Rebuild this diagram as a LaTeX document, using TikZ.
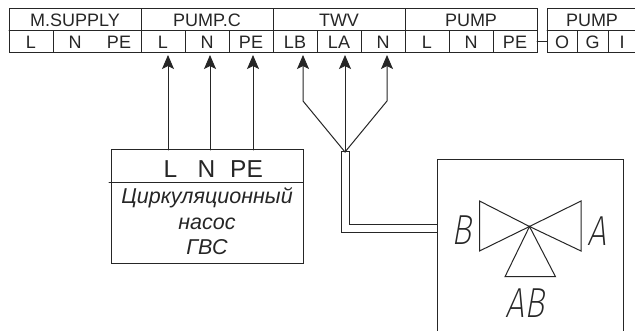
\documentclass[tikz,border=0pt]{standalone}
\usepackage{fontspec}
\setmainfont{Liberation Sans}
\newfontfamily\thinf{Fira Sans ExtraLight}[AutoFakeSlant=0.22]
\usetikzlibrary{arrows.meta}
\definecolor{ink}{HTML}{262626}
\tikzset{
  x=1pt,y=-1pt,
  ln/.style={draw=ink,line width=1pt,line cap=round,line join=miter},
  arr/.style={ln,-{Stealth[length=14pt,width=12pt,inset=3pt]}},
  tt/.style={text=ink,font=\fontsize{18}{18}\selectfont,inner sep=0pt,anchor=base},
  it/.style={text=ink,font=\fontsize{21.5}{22}\selectfont\itshape,inner sep=0pt,anchor=base},
  bl/.style={text=ink,font=\fontsize{24.5}{25}\selectfont,inner sep=0pt,anchor=base},
  lt/.style={text=ink,font=\fontsize{42}{42}\thinf\slshape,inner sep=0pt,anchor=base,xscale=0.8},
}
\begin{document}
\begin{tikzpicture}
\useasboundingbox[fill=white] (0,0) rectangle (635,331);
% terminal table
\draw[ln] (9,9) rectangle (537,52.5);
\draw[ln] (9,31) -- (537,31);
\foreach \x in {141,273,405}{\draw[ln] (\x,9) -- (\x,52.5);}
\foreach \x in {53,185,229,317,361,449,493}{\draw[ln] (\x,31) -- (\x,52.5);}
\draw[ln] (635,9) -- (547,9) -- (547,52.5) -- (635,52.5);
\draw[ln] (547,31) -- (635,31);
\draw[ln] (577,31) -- (577,52.5);
\draw[ln] (608,31) -- (608,52.5);
\draw[ln] (537,42) -- (547,42);
% header labels
\node[tt] (h1) at (75,26.5) {M.SUPPLY};
\node[tt] (h2) at (207,26.5) {PUMP.C};
\node[tt] (h3) at (339,26.5) {TWV};
\node[tt] (h4) at (471,26.5) {PUMP};
\node[tt] (h5) at (592,26.5) {PUMP};
% terminals
\foreach \n/\x/\t in {a/31/L,b/75/N,c/119/PE,d/163/L,e/207/N,f/251/PE,g/295/LB,h/339/LA,i/383/N,j/427/L,k/471/N,l/515/PE,m/562/O,n/592.5/G,o/622/I}{
  \node[tt] (t\n) at (\x,48.7) {\t};
}
% pump box
\draw[ln] (111,150) rectangle (303,264);
\draw[ln] (109,183) -- (303,183);
\node[bl] (pl) at (170.5,177.5) {L};
\node[bl] (pn) at (206.5,177.5) {N};
\node[bl] (pp) at (246.5,177.5) {PE};
\node[it] (c1) at (207,204) {Циркуляционный};
\node[it] (c2) at (207,230) {насос};
\node[it] (c3) at (207,255) {ГВС};
% arrows from pump to terminals
\coordinate (a1) at (168,150); \coordinate (b1) at (168,55);
\coordinate (a2) at (210,150); \coordinate (b2) at (210,55);
\coordinate (a3) at (253,150); \coordinate (b3) at (253,55);
\draw[arr] (a1) -- (b1);
\draw[arr] (a2) -- (b2);
\draw[arr] (a3) -- (b3);
% fan
\coordinate (fan) at (345,152);
\coordinate (b4) at (303,55);
\coordinate (b5) at (345,55);
\coordinate (b6) at (387,55);
\draw[arr] (fan) -- (303,101) -- (b4);
\draw[arr] (fan) -- (b5);
\draw[arr] (fan) -- (387,101) -- (b6);
% double cable
\draw[ln] (437,233) -- (341,233) -- (341,152) -- (349.5,152) -- (349.5,225) -- (437,225);
% valve box
\draw[ln] (437,331) -- (437,160) -- (623,160) -- (623,331);
% valve symbol
\coordinate (v) at (529.5,226.5);
\draw[ln] (v) -- (479.5,201) -- (479.5,251) -- cycle;
\draw[ln] (v) -- (581,201) -- (581,251) -- cycle;
\draw[ln] (v) -- (505,276.7) -- (555.5,276.7) -- cycle;
\node[lt] (lb) at (461,245) {B};
\node[lt] (la) at (597,246) {A};
\node[lt] (lab) at (525,318) {AB};
\end{tikzpicture}
\end{document}
